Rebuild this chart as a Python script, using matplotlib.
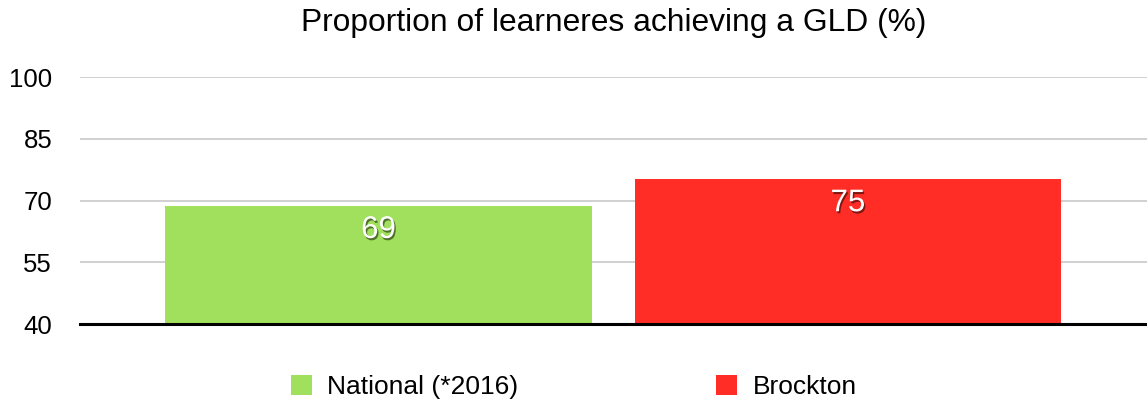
import matplotlib
matplotlib.use("Agg")
import matplotlib.pyplot as plt
import matplotlib.patheffects as pe
from matplotlib.patches import Patch

plt.rcParams['font.family'] = ['Liberation Sans', 'DejaVu Sans']

title = "Proportion of learneres achieving a GLD (%)"
categories = ["National (*2016)", "Brockton"]
values = [68.7, 75.2]
labels = ["69", "75"]
colors = ["#A0E05C", "#FF2D25"]
yticks = [40, 55, 70, 85, 100]

fig = plt.figure(figsize=(11.47, 4.04), dpi=100)
ax = fig.add_axes([0.0697, 0.198, 0.9303, 0.611])

x = list(range(len(categories)))
bars = ax.bar(x, [v - 40 for v in values], bottom=40, width=0.909, color=colors, zorder=2)

ax.set_ylim(40, 100)
ax.set_xlim(-0.636, 1.637)
ax.set_yticks(yticks)
ax.set_yticklabels([str(t) for t in yticks], fontsize=18.5)
ax.set_xticks([])
ax.tick_params(axis='y', length=0, pad=20)
ax.grid(axis='y', color='#C8C8C8', linewidth=1.2, zorder=0)
for s in ['top', 'right', 'left']:
    ax.spines[s].set_visible(False)
ax.spines['bottom'].set_linewidth(2.2)
ax.spines['bottom'].set_color('black')
ax.spines['bottom'].set_zorder(3)

for xi, v, lab in zip(x, values, labels):
    ax.annotate(lab, (xi, v), xytext=(0, -24), textcoords='offset pixels',
                ha='center', va='center', fontsize=22.5, color='white', zorder=4,
                path_effects=[pe.withSimplePatchShadow(offset=(1, -1.5), shadow_rgbFace='black', alpha=0.5)])

fig.text(0.535, 0.943, title, ha='center', va='center', fontsize=22.9)

handles = [Patch(facecolor=c, edgecolor='none') for c in colors]
fig.legend(handles, categories, loc='center', bbox_to_anchor=(0.5004, 0.042), ncol=2,
           frameon=False, fontsize=19, handlelength=0.78, handleheight=0.83,
           handletextpad=0.6, columnspacing=7.5)

fig.savefig("out.png", dpi=100)
